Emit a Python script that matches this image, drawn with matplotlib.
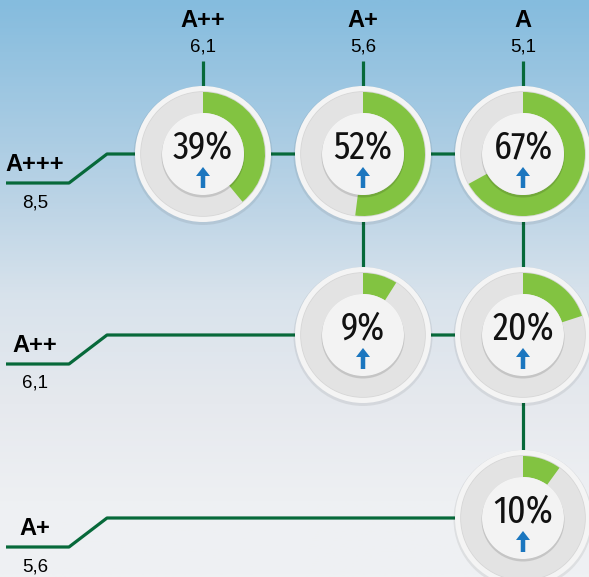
import numpy as np
import matplotlib
matplotlib.use("Agg")
import matplotlib.pyplot as plt
from matplotlib import patches
from matplotlib.colors import LinearSegmentedColormap

# column header (grade, value) and row header (grade, value)
col_labels = ["A++", "A+", "A"]
col_values = ["6,1", "5,6", "5,1"]
row_labels = ["A+++", "A++", "A+"]
row_values = ["8,5", "6,1", "5,6"]
# share in % for each row/column cell, None = no gauge
shares = [[39, 52, 67],
          [None, 9, 20],
          [None, None, 10]]

# layout in pixels
COL_X = [203, 363, 523]
ROW_Y = [154, 335, 518]
R_OUT = 68
R_RING = 62
R_IN = 41

LINE_C = "#07693a"
GREEN = "#82c341"
RING_GRAY = "#e3e3e3"
ARROW_C = "#1b76bf"

NARROW = "Fira Sans Extra Condensed"
LAB = "Liberation Sans"

fig = plt.figure(figsize=(5.89, 5.77), dpi=100)
ax = fig.add_axes([0, 0, 1, 1])
ax.set_xlim(0, 589)
ax.set_ylim(577, 0)
ax.axis("off")

# background gradient
bg = LinearSegmentedColormap.from_list("bg", [
    (0.0, "#85bcde"), (0.35, "#bcd4e6"), (0.52, "#d9e3ec"),
    (0.7, "#e6e9ee"), (0.87, "#eef0f3"), (1.0, "#eff1f3")])
grad = np.linspace(0, 1, 300).reshape(-1, 1)
ax.imshow(grad, cmap=bg, aspect="auto", extent=[0, 589, 577, 0], zorder=0)

# connector lines and row headers
for i, y in enumerate(ROW_Y):
    low = y + 29
    ax.plot([6, 69, 107, COL_X[-1]], [low, low, y, y], color=LINE_C, lw=2.3,
            solid_capstyle="butt", zorder=1)
    ax.text(35, low - 12, row_labels[i], ha="center", va="baseline",
            fontsize=17, fontweight="bold", family=LAB, zorder=3)
    ax.text(35, low + 24, row_values[i], ha="center", va="baseline",
            fontsize=13.5, family=LAB, zorder=3)

# column lines and headers
for j, x in enumerate(COL_X):
    last = max(i for i in range(3) if shares[i][j] is not None)
    ax.plot([x, x], [61, ROW_Y[last]], color=LINE_C, lw=2.3,
            solid_capstyle="butt", zorder=1)
    ax.text(x, 27, col_labels[j], ha="center", va="baseline",
            fontsize=17, fontweight="bold", family=LAB, zorder=3)
    ax.text(x, 51, col_values[j], ha="center", va="baseline",
            fontsize=13.5, family=LAB, zorder=3)

# gauges
for i, y in enumerate(ROW_Y):
    for j, x in enumerate(COL_X):
        p = shares[i][j]
        if p is None:
            continue
        ax.add_patch(patches.Circle((x, y + 1.5), R_OUT + 1.5, color="#000000",
                                    alpha=0.07, lw=0, zorder=2))
        ax.add_patch(patches.Circle((x, y), R_OUT, color="#f4f4f4", lw=0, zorder=2))
        ax.add_patch(patches.Circle((x, y), R_RING + 0.8, color="#d6d6d6", lw=0, zorder=2))
        ax.add_patch(patches.Wedge((x, y), R_RING, 0, 360, width=R_RING - R_IN,
                                   color=RING_GRAY, lw=0, zorder=2))
        ax.add_patch(patches.Wedge((x, y), R_RING, -90, -90 + 3.6 * p,
                                   width=R_RING - R_IN, color=GREEN, lw=0, zorder=2))
        ax.add_patch(patches.Circle((x, y + 2), R_IN + 0.5, color="#000000",
                                    alpha=0.13, lw=0, zorder=2))
        ax.add_patch(patches.Circle((x, y), R_IN, color="#f3f3f3", lw=0, zorder=2))
        ax.text(x, y + 4, f"{p}%", ha="center", va="baseline", fontsize=28,
                family=NARROW, color="#111111", zorder=3)
        ax.add_patch(patches.FancyArrow(x, y + 34, 0, -21, width=4.5,
                                        head_width=14, head_length=9,
                                        length_includes_head=True,
                                        color=ARROW_C, lw=0, zorder=3))

fig.savefig("out.png", dpi=100)
